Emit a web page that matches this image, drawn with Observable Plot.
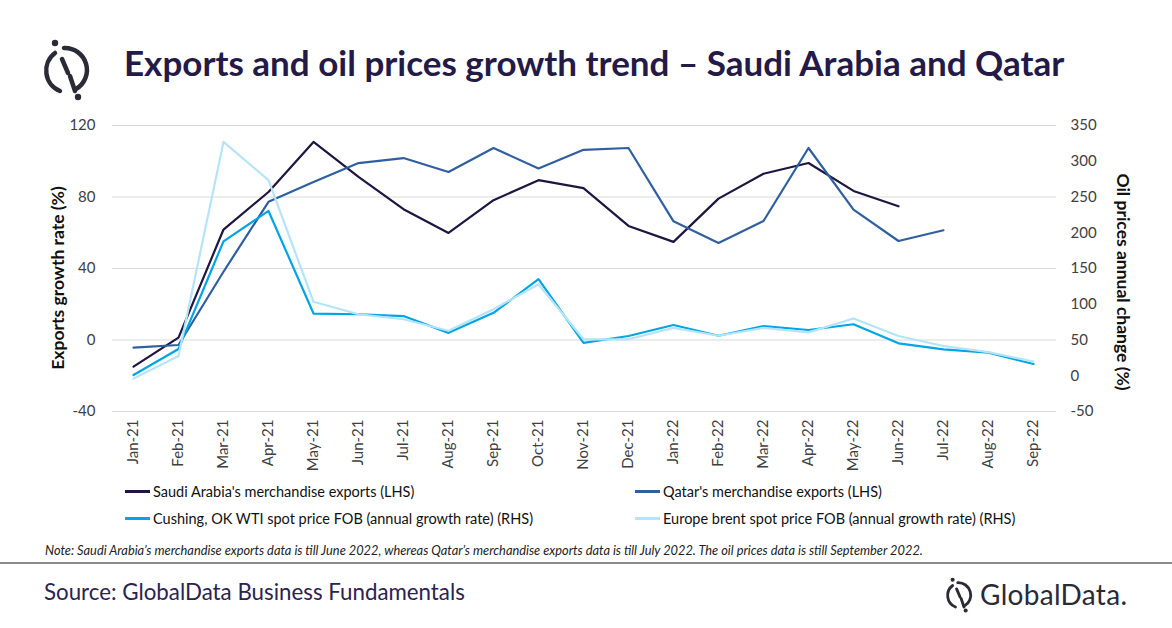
<!DOCTYPE html>
<html><head><meta charset="utf-8">
<script src="https://cdn.jsdelivr.net/npm/d3@7"></script>
<script src="https://cdn.jsdelivr.net/npm/@observablehq/plot@0.6"></script>
<style>
body{margin:0;width:1172px;height:628px;background:#fff;position:relative;overflow:hidden;font-family:Lato,"Open Sans",sans-serif;}
.abs{position:absolute;}
#title{left:124px;top:41px;font-size:35px;font-weight:700;color:#231a47;white-space:nowrap;}
#chart{left:0;top:110px;}
.ylab{font-size:17.5px;font-weight:700;color:#111;white-space:nowrap;}
#ylabL{left:57px;top:278px;transform:translate(-50%,-50%) rotate(-90deg);}
#ylabR{left:1123px;top:282px;transform:translate(-50%,-50%) rotate(90deg);}
.leg{font-size:14.5px;color:#111;white-space:nowrap;display:flex;align-items:center;}
.sw{display:inline-block;width:25px;height:2.5px;margin-right:3px;}
#note{left:45px;top:542px;font-size:12.8px;font-style:italic;color:#222;white-space:nowrap;}
#rule{left:0;top:562px;width:1172px;height:1.5px;background:#8c8c8c;}
#source{left:44px;top:578px;font-size:22.3px;color:#2b2350;white-space:nowrap;}
#gd{left:980px;top:577px;font-size:28px;color:#2a2a38;white-space:nowrap;letter-spacing:0.3px;}
</style></head><body>
<svg class="abs" style="left:38px;top:35px" width="60" height="66" viewBox="0 0 60 66">
  <path d="M17 18 A22 22 0 0 0 22 56" fill="none" stroke="#2b2b38" stroke-width="4.5" stroke-linecap="round"/>
  <path d="M26 13 A22 22 0 0 1 38 54" fill="none" stroke="#2b2b38" stroke-width="4.5" stroke-linecap="round"/>
  <path d="M24 24 L30 38 M32 41 L37 56" fill="none" stroke="#2b2b38" stroke-width="4.5" stroke-linecap="round"/>
  <circle cx="17" cy="8" r="3.2" fill="#2b2b38"/>
  <circle cx="40" cy="62" r="3.2" fill="#2b2b38"/>
</svg>
<div id="title" class="abs">Exports and oil prices growth trend – Saudi Arabia and Qatar</div>
<div id="chart" class="abs"></div>
<div id="ylabL" class="abs ylab">Exports growth rate (%)</div>
<div id="ylabR" class="abs ylab">Oil prices annual change (%)</div>
<div id="legend"></div>
<div id="note" class="abs">Note: Saudi Arabia’s merchandise exports data is till June 2022, whereas Qatar’s merchandise exports data is till July 2022. The oil prices data is still September 2022.</div>
<div id="rule" class="abs"></div>
<div id="source" class="abs">Source: GlobalData Business Fundamentals</div>
<svg class="abs" style="left:943px;top:575px" width="34" height="38" viewBox="0 0 60 66">
  <path d="M17 18 A22 22 0 0 0 22 56" fill="none" stroke="#2b2b38" stroke-width="5" stroke-linecap="round"/>
  <path d="M26 13 A22 22 0 0 1 38 54" fill="none" stroke="#2b2b38" stroke-width="5" stroke-linecap="round"/>
  <path d="M24 24 L30 38 M32 41 L37 56" fill="none" stroke="#2b2b38" stroke-width="5" stroke-linecap="round"/>
  <circle cx="17" cy="8" r="3.6" fill="#2b2b38"/>
  <circle cx="40" cy="62" r="3.6" fill="#2b2b38"/>
</svg>
<div id="gd" class="abs">GlobalData.</div>
<script>
const months = ["Jan-21","Feb-21","Mar-21","Apr-21","May-21","Jun-21","Jul-21","Aug-21","Sep-21","Oct-21","Nov-21","Dec-21","Jan-22","Feb-22","Mar-22","Apr-22","May-22","Jun-22","Jul-22","Aug-22","Sep-22"];
// Left-hand scale (exports growth, %)
const saudi = [-14.9, 1.3, 61.8, 82.8, 110.8, 91.2, 73.2, 59.9, 78.2, 89.4, 85.0, 63.8, 54.9, 79.1, 93.0, 99.0, 83.4, 74.8];
const qatar = [-4.3, -2.8, 38.2, 77.3, 88.4, 99.0, 101.8, 94.0, 107.4, 96.0, 106.4, 107.4, 66.4, 54.3, 66.6, 107.4, 72.9, 55.4, 61.4];
// Right-hand scale (oil prices annual change, %)
const wti = [1, 37.5, 188, 230.5, 87, 86, 83.5, 60, 88, 135, 46, 55.6, 71, 56, 69.5, 64, 72, 45.3, 37, 32.3, 16.5];
const brent = [-4, 27.7, 327, 273.5, 103.5, 86, 79, 63, 93, 128, 51, 51, 67, 56, 67, 60.7, 80, 55.6, 41.6, 33, 19.7];
const leftTicks = [-40, 0, 40, 80, 120];
const rightTicks = [-50, 0, 50, 100, 150, 200, 250, 300, 350];
const seriesNames = [
  "Saudi Arabia's merchandise exports (LHS)",
  "Qatar's merchandise exports (LHS)",
  "Cushing, OK WTI spot price FOB (annual growth rate) (RHS)",
  "Europe brent spot price FOB (annual growth rate) (RHS)"
];
const colors = ["#1e1540", "#2f5fa0", "#00a5e3", "#b5e4f9"];

// dual axis: right domain [-50,350] maps onto left domain [-40,120]
const r2l = v => (v + 50) * 160 / 400 - 40;
const l2r = v => (v + 40) * 400 / 160 - 50;

const rows = [];
const add = (arr, idx, conv) => arr.forEach((v, i) => rows.push({month: months[i], y: conv ? r2l(v) : v, s: seriesNames[idx]}));
add(saudi, 0, false); add(qatar, 1, false); add(wti, 2, true); add(brent, 3, true);

const lines = seriesNames.map((n, i) => Plot.line(rows.filter(d => d.s === n), {x: "month", y: "y", stroke: colors[i], strokeWidth: 2.2}));

const chart = Plot.plot({
  width: 1172, height: 360,
  marginTop: 15, marginBottom: 59, marginLeft: 112, marginRight: 116,
  style: {fontFamily: "Lato, 'Open Sans', sans-serif", fontSize: "15px", color: "#404040", background: "transparent"},
  x: {type: "point", domain: months, padding: 0, range: [133, 1033]},
  y: {domain: [-40, 120]},
  marks: [
    Plot.ruleY(leftTicks, {stroke: "#d9d9d9", strokeWidth: 1.2}),
    Plot.axisY(leftTicks, {anchor: "left", tickSize: 0, tickPadding: 17, label: null, tickFormat: d => String(d)}),
    Plot.axisY(rightTicks.map(r2l), {anchor: "right", tickSize: 0, tickPadding: 14, label: null, textAnchor: "start", tickFormat: d => String(Math.round(l2r(d)))}),
    Plot.axisX({tickRotate: -90, tickSize: 0, tickPadding: 8, label: null}),
    ...lines
  ]
});
document.getElementById("chart").appendChild(chart);

// legend
const legPos = [[125, 493], [635, 493], [125, 520], [635, 520]];
const leg = document.getElementById("legend");
seriesNames.forEach((n, i) => {
  const d = document.createElement("div");
  d.className = "abs leg";
  d.style.left = legPos[i][0] + "px";
  d.style.top = (legPos[i][1] - 10) + "px";
  d.innerHTML = `<span class="sw" style="background:${colors[i]}"></span>${n}`;
  leg.appendChild(d);
});
</script>
</body></html>
